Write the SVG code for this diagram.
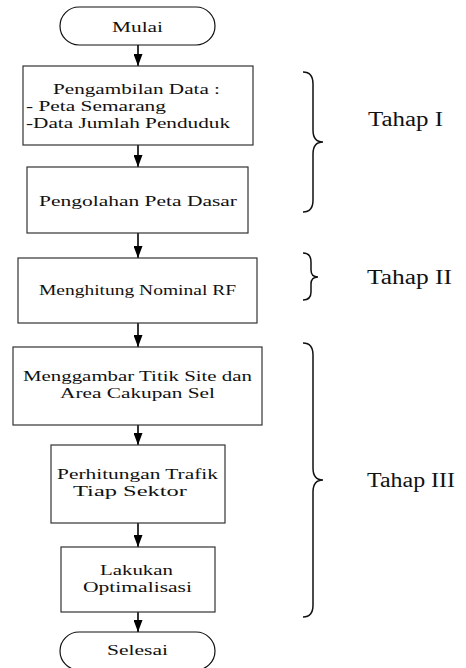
<svg xmlns="http://www.w3.org/2000/svg" width="466" height="668" viewBox="0 0 466 668">
<style>
.box{fill:#fff;stroke:#333;stroke-width:1.2}
.term{fill:#fff;stroke:#111;stroke-width:1.2}
.t{font-family:"Liberation Serif","Times New Roman",serif;font-size:15px;fill:#111}
.tl{font-family:"Liberation Serif","Times New Roman",serif;font-size:20px;fill:#111}
.edge{stroke:#000;stroke-width:1.6;fill:none}
.brace{stroke:#111;stroke-width:1.5;fill:none}
</style>
<defs>
<marker id="ah" markerWidth="12" markerHeight="9" refX="12" refY="4.5" orient="auto" markerUnits="userSpaceOnUse">
<path d="M0,0 L12,4.5 L0,9 Z" fill="#000"/>
</marker>
</defs>
<rect width="466" height="668" fill="#fff"/>
<g id="edges">
<line class="edge" x1="138" y1="45" x2="138" y2="66" marker-end="url(#ah)"/>
<line class="edge" x1="138" y1="145" x2="138" y2="167" marker-end="url(#ah)"/>
<line class="edge" x1="138" y1="233" x2="138" y2="258" marker-end="url(#ah)"/>
<line class="edge" x1="138" y1="323" x2="138" y2="347" marker-end="url(#ah)"/>
<line class="edge" x1="138" y1="425" x2="138" y2="445" marker-end="url(#ah)"/>
<line class="edge" x1="138" y1="523" x2="138" y2="547" marker-end="url(#ah)"/>
<line class="edge" x1="138" y1="612" x2="138" y2="632" marker-end="url(#ah)"/>
</g>
<g id="mulai">
<rect class="term" x="60" y="7" width="155" height="38" rx="19" ry="19"/>
<text class="t" x="112" y="32" textLength="51" lengthAdjust="spacingAndGlyphs">Mulai</text>
</g>
<g id="pengambilan">
<rect class="box" x="23" y="66" width="230" height="79"/>
<text class="t" x="53" y="94" textLength="167" lengthAdjust="spacingAndGlyphs">Pengambilan Data :</text>
<text class="t" x="26" y="111" textLength="140" lengthAdjust="spacingAndGlyphs">- Peta Semarang</text>
<text class="t" x="26" y="128" textLength="204" lengthAdjust="spacingAndGlyphs">-Data Jumlah Penduduk</text>
</g>
<g id="pengolahan">
<rect class="box" x="27" y="167" width="221" height="66"/>
<text class="t" x="39" y="206" textLength="198" lengthAdjust="spacingAndGlyphs">Pengolahan Peta Dasar</text>
</g>
<g id="menghitung">
<rect class="box" x="18" y="258" width="239" height="65"/>
<text class="t" x="39" y="295" textLength="197" lengthAdjust="spacingAndGlyphs">Menghitung Nominal RF</text>
</g>
<g id="menggambar">
<rect class="box" x="13" y="347" width="249" height="78"/>
<text class="t" x="23" y="381" textLength="229" lengthAdjust="spacingAndGlyphs">Menggambar Titik Site dan</text>
<text class="t" x="60" y="398" textLength="155" lengthAdjust="spacingAndGlyphs">Area Cakupan Sel</text>
</g>
<g id="perhitungan">
<rect class="box" x="51" y="445" width="174" height="78"/>
<text class="t" x="57" y="479" textLength="161" lengthAdjust="spacingAndGlyphs">Perhitungan Trafik</text>
<text class="t" x="73" y="496" textLength="114" lengthAdjust="spacingAndGlyphs">Tiap Sektor</text>
</g>
<g id="optimalisasi">
<rect class="box" x="61" y="547" width="154" height="65"/>
<text class="t" x="100" y="575" textLength="73" lengthAdjust="spacingAndGlyphs">Lakukan</text>
<text class="t" x="83" y="592" textLength="109" lengthAdjust="spacingAndGlyphs">Optimalisasi</text>
</g>
<g id="selesai">
<rect class="term" x="60" y="632" width="155" height="38" rx="19" ry="19"/>
<text class="t" x="107" y="655" textLength="61" lengthAdjust="spacingAndGlyphs">Selesai</text>
</g>
<g id="tahap1">
<path class="brace" d="M303,72 Q313,72 313,84 L313,130 Q313,142 323,142 Q313,142 313,154 L313,200 Q313,212 303,212"/>
<text class="tl" x="368" y="126" textLength="75" lengthAdjust="spacingAndGlyphs">Tahap I</text>
</g>
<g id="tahap2">
<path class="brace" d="M303,253 Q311,253 311,262 L311,270 Q311,277 318,277 Q311,277 311,284 L311,292 Q311,300 303,300"/>
<text class="tl" x="367" y="284" textLength="85" lengthAdjust="spacingAndGlyphs">Tahap II</text>
</g>
<g id="tahap3">
<path class="brace" d="M303,343 Q313,343 313,355 L313,468 Q313,480 323,480 Q313,480 313,492 L313,605 Q313,617 303,617"/>
<text class="tl" x="367" y="487" textLength="88" lengthAdjust="spacingAndGlyphs">Tahap III</text>
</g>
</svg>
